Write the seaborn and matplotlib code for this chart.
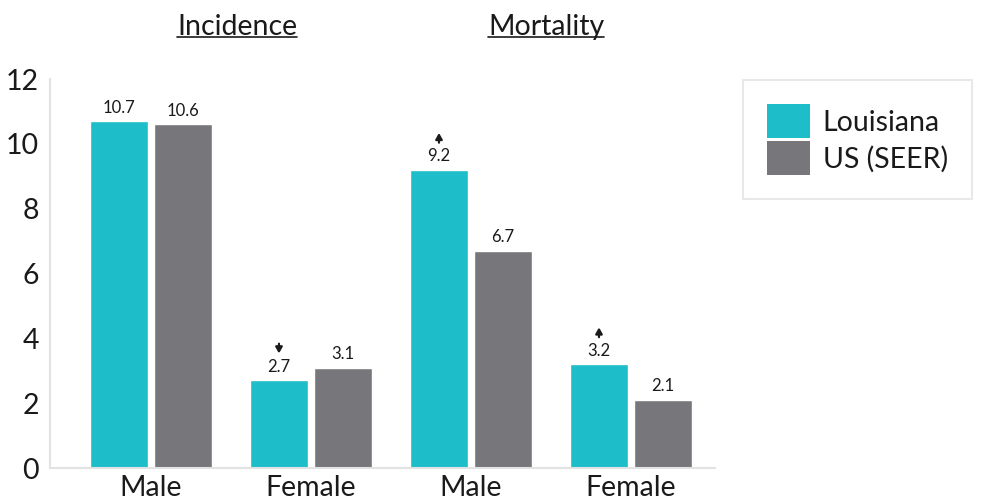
import matplotlib
matplotlib.use("Agg")
import matplotlib.pyplot as plt
from matplotlib.patches import Patch
from matplotlib.lines import Line2D
import matplotlib.transforms as mtransforms
import seaborn as sns
import pandas as pd

# ---- data ----
groups = ["Incidence Male", "Incidence Female", "Mortality Male", "Mortality Female"]
group_labels = ["Male", "Female", "Male", "Female"]
series = ["Louisiana", "US (SEER)"]
louisiana = [10.7, 2.7, 9.2, 3.2]
us_seer = [10.6, 3.1, 6.7, 2.1]
louisiana_trend = ["", "down", "up", "up"]
us_trend = ["", "", "", ""]
sections = ["Incidence", "Mortality"]
y_ticks = [0, 2, 4, 6, 8, 10, 12]

colors = {"Louisiana": "#1DBEC9", "US (SEER)": "#77777B"}

df = pd.DataFrame({
    "group": groups * 2,
    "series": [series[0]] * 4 + [series[1]] * 4,
    "value": louisiana + us_seer,
})

sns.set_style("white")
plt.rcParams["font.family"] = ["Lato", "DejaVu Sans"]

W, H = 982, 498
fig = plt.figure(figsize=(W / 100, H / 100), dpi=100)
ax = fig.add_axes([50 / W, 30 / H, (715 - 50) / W, (468 - 79) / H])

sns.barplot(data=df, x="group", y="value", hue="series", order=groups,
            hue_order=series, palette=colors, width=0.8, gap=0.094,
            legend=False, ax=ax, saturation=1)

FS = 20.5
ax.set_xlim(-0.631, 3.525)
ax.set_ylim(0, 12)
ax.set_yticks(y_ticks)
ax.set_yticklabels([str(t) for t in y_ticks], fontsize=FS, color="#1a1a1a")
ax.set_xticks(range(len(groups)))
ax.set_xticklabels(group_labels, fontsize=FS, color="#1a1a1a")
ax.set_xlabel("")
ax.set_ylabel("")
ax.tick_params(axis="x", length=0, pad=5)
ax.tick_params(axis="y", direction="in", length=11, width=1, color="#E3E3E3", pad=8)

for s in ["top", "right"]:
    ax.spines[s].set_visible(False)
for s in ["left", "bottom"]:
    ax.spines[s].set_color("#E3E3E3")
    ax.spines[s].set_linewidth(1.5)

# value labels and trend arrows
trends = [louisiana_trend, us_trend]
vals = [louisiana, us_seer]
for ci, cont in enumerate(ax.containers):
    ax.bar_label(cont, labels=[f"{v}" for v in vals[ci]], padding=4,
                 fontsize=12, color="#1a1a1a")
    for bi, bar in enumerate(cont):
        tr = trends[ci][bi]
        if tr:
            xc = bar.get_x() + bar.get_width() / 2
            top = bar.get_height()
            lo, hi = 19.5, 26.5
            start, end = (lo, hi) if tr == "up" else (hi, lo)
            tr_end = mtransforms.offset_copy(ax.transData, fig=fig, x=0, y=end, units="points")
            tr_start = mtransforms.offset_copy(ax.transData, fig=fig, x=0, y=start, units="points")
            ax.annotate("", xy=(xc, top), xycoords=tr_end,
                        xytext=(xc, top), textcoords=tr_start,
                        arrowprops=dict(arrowstyle="-|>,head_length=0.35,head_width=0.2",
                                        color="#1a1a1a", lw=1.6,
                                        shrinkA=0, shrinkB=0))

# section headers (underlined)
trans = mtransforms.blended_transform_factory(ax.transData, fig.transFigure)
hdrs = []
for sx, name in zip([0.54, 2.47], sections):
    t = ax.text(sx, 1 - 27 / H, name, transform=trans, ha="center", va="center",
                fontsize=FS, color="#1a1a1a")
    hdrs.append(t)

fig.canvas.draw()
r = fig.canvas.get_renderer()
for t in hdrs:
    bb = t.get_window_extent(r)
    yline = (bb.y0 + 3) / H
    fig.add_artist(Line2D([bb.x0 / W, bb.x1 / W], [yline, yline],
                          transform=fig.transFigure, color="#1a1a1a", lw=1.2))

# legend
handles = [Patch(facecolor=colors[s], edgecolor="none", label=s) for s in series]
leg = fig.legend(handles=handles, loc="upper left",
                 bbox_to_anchor=(743 / W, 1 - 80 / H), fontsize=FS,
                 frameon=True, fancybox=False, borderaxespad=0,
                 handlelength=1.5, handleheight=1.45, handletextpad=0.45,
                 labelspacing=0.12, borderpad=0.85)
leg.get_frame().set_edgecolor("#E3E3E3")
leg.get_frame().set_linewidth(1.5)
for txt in leg.get_texts():
    txt.set_color("#1a1a1a")

fig.savefig("out.png", dpi=100)
